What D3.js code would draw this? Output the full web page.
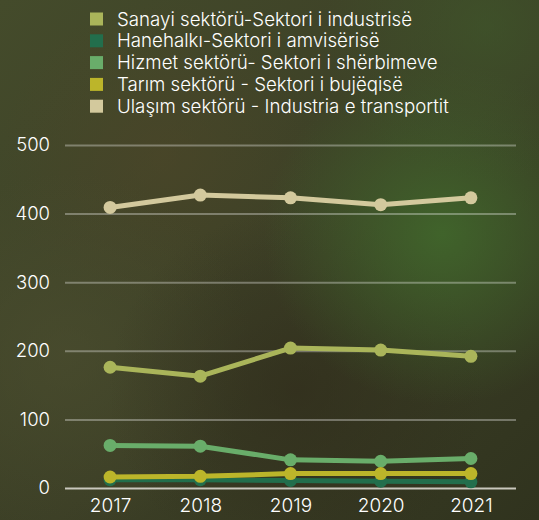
<!DOCTYPE html>
<html><head><meta charset="utf-8">
<script src="https://cdn.jsdelivr.net/npm/d3@7"></script>
<style>
html,body{margin:0;padding:0;background:#3d4428;}
svg{display:block;}
text{font-family:Inter,"Noto Sans",sans-serif;font-weight:350;}
</style></head>
<body>
<svg id="c" width="539" height="520"></svg>
<script>
const years = ["2017","2018","2019","2020","2021"];
const seriesNames = [
  "Sanayi sektörü-Sektori i industrisë",
  "Hanehalkı-Sektori i amvisërisë",
  "Hizmet sektörü- Sektori i shërbimeve",
  "Tarım sektörü - Sektori i bujëqisë",
  "Ulaşım sektörü - Industria e transportit"
];
const seriesColors = ["#aab55a","#226e4c","#69ad6a","#bcb52a","#d3c99d"];
const sanayi  = [176, 163, 204, 201, 192];
const hanehalki = [12, 12, 11, 10, 9];
const hizmet  = [62, 61, 41, 39, 43];
const tarim   = [16, 17, 21, 21, 21];
const ulasim  = [409, 427, 423, 413, 423];
const yTicks = [0,100,200,300,400,500];

const seriesValues = [sanayi, hanehalki, hizmet, tarim, ulasim];
const W = 539, H = 520;
const svg = d3.select("#c");

// background
const defs = svg.append("defs");
function radial(id, cx, cy, r, color, op){
  const g = defs.append("radialGradient").attr("id", id)
    .attr("cx", cx).attr("cy", cy).attr("r", r);
  g.append("stop").attr("offset","0%").attr("stop-color",color).attr("stop-opacity",op);
  g.append("stop").attr("offset","100%").attr("stop-color",color).attr("stop-opacity",0);
}
const lg = defs.append("linearGradient").attr("id","base").attr("x1","0").attr("y1","0").attr("x2","1").attr("y2","1");
lg.append("stop").attr("offset","0%").attr("stop-color","#444b2b");
lg.append("stop").attr("offset","55%").attr("stop-color","#3c3f26");
lg.append("stop").attr("offset","100%").attr("stop-color","#30331e");
svg.append("rect").attr("width",W).attr("height",H).attr("fill","url(#base)");
radial("g1","82%","45%","33%","#416a2c",0.85);
radial("g2","55%","75%","35%","#2f2a1a",0.6);
radial("g3","12%","68%","35%","#4d4f30",0.6);
radial("g4","30%","30%","30%","#504628",0.5);
radial("g5","90%","5%","30%","#3f5a2b",0.6);
["g4","g3","g2","g1","g5"].forEach(id=>svg.append("rect").attr("width",W).attr("height",H).attr("fill",`url(#${id})`));

const margin = {left:65, right:23, top:145, bottom:32};
const x = d3.scalePoint().domain(years).range([margin.left, W-margin.right]).padding(0.5);
const y = d3.scaleLinear().domain([0,500]).range([488,145]);

// grid
const yAxis = svg.append("g").attr("transform",`translate(${margin.left},0)`)
  .call(d3.axisLeft(y).tickValues(yTicks).tickSize(-(W-margin.left-margin.right)).tickPadding(15));
yAxis.select(".domain").remove();
yAxis.selectAll(".tick line").attr("stroke", d=> d===0 ? "#c9c8bd" : "rgba(255,255,255,0.32)").attr("stroke-width",2);
yAxis.selectAll(".tick text").attr("fill","#ffffff").attr("font-size",18.5);

const xAxis = svg.append("g").attr("transform",`translate(0,488)`)
  .call(d3.axisBottom(x).tickSize(0).tickPadding(11));
xAxis.select(".domain").remove();
xAxis.selectAll(".tick text").attr("fill","#ffffff").attr("font-size",19);

// lines (draw order: ulasim, sanayi, hizmet, hanehalki, tarim)
const order = [4,0,2,1,3];
const line = d3.line().x((d,i)=>x(years[i])).y(d=>y(d));
order.forEach(si=>{
  const vals = seriesValues[si];
  const g = svg.append("g");
  g.append("path").attr("d", line(vals)).attr("fill","none")
    .attr("stroke", seriesColors[si]).attr("stroke-width",5).attr("stroke-linejoin","round");
  g.selectAll("circle").data(vals).join("circle")
    .attr("cx",(d,i)=>x(years[i])).attr("cy",d=>y(d)).attr("r",6.5)
    .attr("fill", seriesColors[si]);
});

// legend
const leg = svg.append("g");
seriesNames.forEach((n,i)=>{
  const cy = 19 + i*21.8;
  leg.append("rect").attr("x",90).attr("y",cy-6.5).attr("width",13).attr("height",13).attr("fill",seriesColors[i]);
  leg.append("text").attr("x",117).attr("y",cy).attr("dy","0.35em")
    .attr("fill","#ffffff").attr("font-size",18.7).text(n);
});
</script>
</body></html>
